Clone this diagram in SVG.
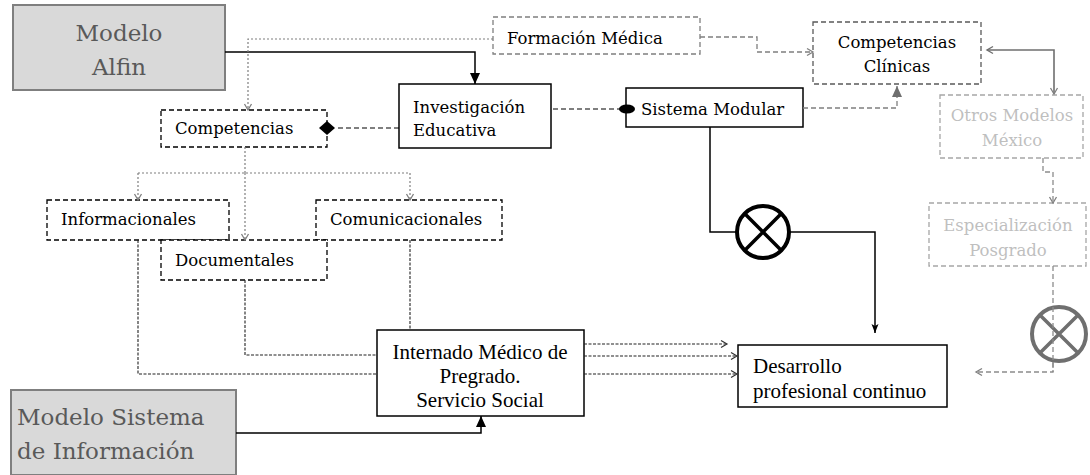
<svg xmlns="http://www.w3.org/2000/svg" width="1090" height="475" viewBox="0 0 1090 475">
  <style>
    .slab { font-family: "DejaVu Serif", "Liberation Serif", serif; }
    .times { font-family: "Liberation Serif", "Times New Roman", serif; }
    .model rect { fill: #d9d9d9; stroke: #7f7f7f; stroke-width: 2; }
    .model text { fill: #595959; font-size: 23px; }
    .box { fill: #ffffff; stroke: #000000; stroke-width: 1.5; }
    .dbox { fill: #ffffff; stroke: #000000; stroke-width: 1.3; stroke-dasharray: 5 3; }
    .gbox { fill: #ffffff; stroke: #7f7f7f; stroke-width: 1.3; stroke-dasharray: 5 3; }
    .lbox { fill: #ffffff; stroke: #a6a6a6; stroke-width: 1.3; stroke-dasharray: 5 3; }
    .label { font-size: 16.5px; fill: #000000; }
    .glabel { font-size: 16.5px; fill: #bfbfbf; }
    .conn { fill: none; }
    .solid { stroke: #000000; stroke-width: 1.5; }
    .dotted { stroke: #7f7f7f; stroke-width: 1.2; stroke-dasharray: 2 2; }
    .dashed { stroke: #000000; stroke-width: 1.2; stroke-dasharray: 5 3; }
    .gdashed { stroke: #7f7f7f; stroke-width: 1.3; stroke-dasharray: 5 3; }
    .thin { stroke: #222222; stroke-width: 1.1; stroke-dasharray: 3 1.5; }
    .gsolid { stroke: #6f6f6f; stroke-width: 1.6; }
    .mult { fill: #ffffff; stroke: #000000; stroke-width: 4; }
    .gmult { fill: #ffffff; stroke: #6f6f6f; stroke-width: 4; }
    .big { font-size: 21px; }
  </style>
  <defs>
    <marker id="tri" markerUnits="userSpaceOnUse" markerWidth="12" markerHeight="12" viewBox="0 0 12 12" refX="11" refY="6" orient="auto">
      <path d="M0,1 L11,6 L0,11 Z" fill="#000000"/>
    </marker>
    <marker id="triSmall" markerUnits="userSpaceOnUse" markerWidth="10" markerHeight="10" viewBox="0 0 10 10" refX="9" refY="5" orient="auto">
      <path d="M0,1.5 L9,5 L0,8.5 L2,5 Z" fill="#000000"/>
    </marker>
    <marker id="triGray" markerUnits="userSpaceOnUse" markerWidth="12" markerHeight="12" viewBox="0 0 12 12" refX="11" refY="6" orient="auto">
      <path d="M0,1 L11,6 L0,11 Z" fill="#6f6f6f"/>
    </marker>
    <marker id="vOpen" markerUnits="userSpaceOnUse" markerWidth="10" markerHeight="10" viewBox="0 0 10 10" refX="8" refY="5" orient="auto">
      <path d="M2,1.5 L8,5 L2,8.5" fill="none" stroke="#333333" stroke-width="1.2"/>
    </marker>
    <marker id="vGray" markerUnits="userSpaceOnUse" markerWidth="10" markerHeight="10" viewBox="0 0 10 10" refX="8" refY="5" orient="auto">
      <path d="M2,1.5 L8,5 L2,8.5" fill="none" stroke="#7f7f7f" stroke-width="1.3"/>
    </marker>
    <marker id="vGrayStart" markerUnits="userSpaceOnUse" markerWidth="10" markerHeight="10" viewBox="0 0 10 10" refX="2" refY="5" orient="auto">
      <path d="M8,1.5 L2,5 L8,8.5" fill="none" stroke="#6f6f6f" stroke-width="1.4"/>
    </marker>
  </defs>

  <!-- nodes -->
  <g id="modelo-alfin" class="model slab">
    <rect x="13" y="5" width="212" height="85"/>
    <text x="119" y="41" text-anchor="middle">Modelo</text>
    <text x="119" y="75" text-anchor="middle">Alfin</text>
  </g>

  <g id="formacion-medica" class="slab">
    <rect class="gbox" x="493" y="17" width="207" height="37"/>
    <text class="label" x="507" y="44">Formación Médica</text>
  </g>

  <g id="competencias-clinicas" class="slab">
    <rect class="gbox" style="stroke:#595959" x="813" y="22" width="168" height="62"/>
    <text class="label" x="897" y="48" text-anchor="middle">Competencias</text>
    <text class="label" x="897" y="72" text-anchor="middle">Clínicas</text>
  </g>

  <g id="investigacion-educativa" class="slab">
    <rect class="box" x="399" y="84" width="152" height="64"/>
    <text class="label" x="413" y="113">Investigación</text>
    <text class="label" x="413" y="136">Educativa</text>
  </g>

  <g id="sistema-modular" class="slab">
    <rect class="box" x="626" y="88" width="177" height="39"/>
    <text class="label" x="641" y="115">Sistema Modular</text>
  </g>

  <g id="competencias" class="slab">
    <rect class="dbox" x="161" y="110" width="166" height="37"/>
    <text class="label" x="175" y="134">Competencias</text>
  </g>

  <g id="otros-modelos" class="slab">
    <rect class="lbox" x="940" y="95" width="143" height="63"/>
    <text class="glabel" x="1012" y="121" text-anchor="middle">Otros Modelos</text>
    <text class="glabel" x="1012" y="146" text-anchor="middle">México</text>
  </g>

  <g id="especializacion" class="slab">
    <rect class="lbox" x="929" y="203" width="157" height="63"/>
    <text class="glabel" x="1008" y="231" text-anchor="middle">Especialización</text>
    <text class="glabel" x="1008" y="256" text-anchor="middle">Posgrado</text>
  </g>

  <g id="informacionales" class="slab">
    <rect class="dbox" x="47" y="200" width="182" height="40"/>
    <text class="label" x="61" y="225">Informacionales</text>
  </g>

  <g id="comunicacionales" class="slab">
    <rect class="dbox" x="316" y="200" width="186" height="40"/>
    <text class="label" x="330" y="225">Comunicacionales</text>
  </g>

  <g id="documentales" class="slab">
    <rect class="dbox" x="161" y="240" width="166" height="40"/>
    <text class="label" x="175" y="266">Documentales</text>
  </g>

  <g id="internado" class="times">
    <rect class="box" x="377" y="330" width="207" height="86"/>
    <text class="big" x="480" y="359" text-anchor="middle">Internado Médico de</text>
    <text class="big" x="480" y="383" text-anchor="middle">Pregrado.</text>
    <text class="big" x="480" y="407" text-anchor="middle">Servicio Social</text>
  </g>

  <g id="desarrollo" class="times">
    <rect class="box" x="738" y="345" width="209" height="62"/>
    <text class="big" x="753" y="373">Desarrollo</text>
    <text class="big" x="753" y="398">profesional continuo</text>
  </g>

  <g id="modelo-sistema" class="model slab">
    <rect x="11" y="390" width="225" height="85"/>
    <text x="17" y="425">Modelo Sistema</text>
    <text x="17" y="459">de Información</text>
  </g>

  <!-- connectors -->
  <g id="connectors" class="conn">
    <path class="solid" d="M225,52 H475 V84" marker-end="url(#tri)"/>
    <path class="dotted" d="M493,39 H248 V110" marker-end="url(#vGray)"/>
    <path class="gdashed" d="M700,37 H757 V52 H813" marker-end="url(#vGray)"/>
    <path class="dashed" d="M553,109 H620"/>
    <ellipse cx="627" cy="109" rx="8" ry="4.5" fill="#000000"/>
    <path class="dashed" d="M399,128 H336"/>
    <path d="M319,128 L327,121 L335,128 L327,135 Z" fill="#000000"/>
    <path class="gdashed" d="M803,108 H897 V86" marker-end="url(#triGray)"/>
    <path class="gsolid" d="M987,50 H1054 V94" marker-start="url(#vGrayStart)" marker-end="url(#vGray)"/>
    <path class="gdashed" style="stroke:#8c8c8c" d="M1043,158 V172 H1053 V203" marker-end="url(#vGray)"/>
    <path class="gdashed" style="stroke:#8c8c8c" d="M1053,266 V372 H976" marker-end="url(#vGray)"/>
    <path class="solid" d="M710,127 V232 H875 V333" marker-end="url(#triSmall)"/>
    <path class="dotted" d="M245,147 V173"/>
    <path class="dotted" d="M138,173 H410"/>
    <path class="dotted" d="M138,173 V200" marker-end="url(#vGray)"/>
    <path class="dotted" d="M410,173 V200" marker-end="url(#vGray)"/>
    <path class="dotted" d="M245,173 V240" marker-end="url(#vGray)"/>
    <path class="thin" d="M138,240 V374 H377"/>
    <path class="thin" d="M245,280 V355 H377"/>
    <path class="thin" d="M410,240 V330"/>
    <path class="thin" d="M584,344 H727" marker-end="url(#vOpen)"/>
    <path class="thin" d="M584,356 H737" marker-end="url(#vOpen)"/>
    <path class="thin" d="M584,374 H737" marker-end="url(#vOpen)"/>
    <path class="solid" d="M236,433 H481 V416" marker-end="url(#tri)"/>
  </g>

  <!-- summing junctions -->
  <g id="junction-modular">
    <circle class="mult" cx="763" cy="232" r="26"/>
    <path d="M744.6,213.6 L781.4,250.4 M781.4,213.6 L744.6,250.4" stroke="#000000" stroke-width="3.5"/>
  </g>
  <g id="junction-posgrado">
    <circle class="gmult" cx="1059" cy="334" r="27"/>
    <path d="M1039.9,314.9 L1078.1,353.1 M1078.1,314.9 L1039.9,353.1" stroke="#6f6f6f" stroke-width="3.5"/>
    <path d="M1053,307 V372" stroke="#8c8c8c" stroke-width="1.3" stroke-dasharray="5 3"/>
  </g>
</svg>
